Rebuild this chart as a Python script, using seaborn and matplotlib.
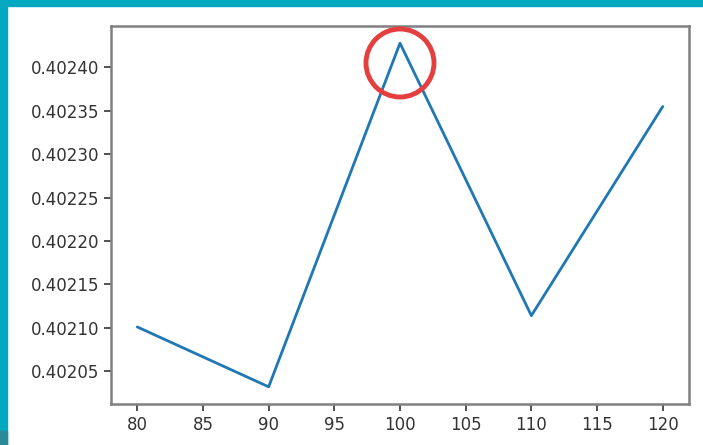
import pandas as pd
import matplotlib.pyplot as plt
import matplotlib.patches as mpatches
import seaborn as sns

# values
n_estimators = [80, 90, 100, 110, 120]
scores = [0.402101, 0.402032, 0.402428, 0.402114, 0.402355]

x_ticks = [80, 85, 90, 95, 100, 105, 110, 115, 120]
y_ticks = [0.40205, 0.40210, 0.40215, 0.40220, 0.40225, 0.40230, 0.40235, 0.40240]

df = pd.DataFrame({'n': n_estimators, 'score': scores})

sns.set_style('white')
plt.rcParams['font.family'] = ['DejaVu Sans']

W, H = 703, 445
fig = plt.figure(figsize=(W / 100, H / 100), dpi=100)
ax = fig.add_axes([111 / W, 1 - 404 / H, (689 - 111) / W, (404 - 26) / H])

sns.lineplot(data=df, x='n', y='score', ax=ax, color='#1f77b4', linewidth=2)

ax.set_xticks(x_ticks)
ax.set_yticks(y_ticks)
ax.set_yticklabels(['{:.5f}'.format(v) for v in y_ticks])
ax.set_xlabel('')
ax.set_ylabel('')
ax.tick_params(axis='both', labelsize=12, length=5, width=1.2, colors='#333333', left=True, bottom=True)
for s in ax.spines.values():
    s.set_color('#808080')
    s.set_linewidth(1.8)

## screenshot frame (teal border)
teal = '#00a9bf'
fig.patches.append(mpatches.Rectangle((0, 1 - 6 / H), 1, 6 / H, transform=fig.transFigure,
                                      color=teal, zorder=0))
fig.patches.append(mpatches.Rectangle((0, 0), 7 / W, 1, transform=fig.transFigure,
                                      color=teal, zorder=0))
fig.patches.append(mpatches.Rectangle((0, 0), 7 / W, 14 / H, transform=fig.transFigure,
                                      color='#2b8a9a', zorder=1))

## red circle annotation around the peak
circle = mpatches.Ellipse((400 / W, 1 - 63 / H), 68 / W, 68 / H, transform=fig.transFigure,
                          fill=False, edgecolor='#e53e3e', linewidth=3.5, zorder=5)
fig.patches.append(circle)

plt.savefig('out.png', dpi=100)
